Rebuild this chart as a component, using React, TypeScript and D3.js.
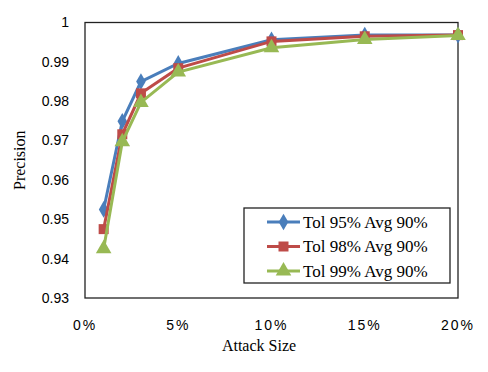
import { useEffect, useRef } from 'react';
import * as d3 from 'd3';

const attackSizes = [0.01, 0.02, 0.03, 0.05, 0.1, 0.15, 0.2];
const tol95 = [0.9525, 0.9749, 0.985, 0.9896, 0.9956, 0.9968, 0.9968];
const tol98 = [0.9475, 0.9716, 0.982, 0.9884, 0.9952, 0.9965, 0.9968];
const tol99 = [0.9425, 0.9697, 0.9797, 0.9874, 0.9936, 0.9957, 0.9967];
const seriesNames = ['Tol 95% Avg 90%', 'Tol 98% Avg 90%', 'Tol 99% Avg 90%'];
const xTicks = [0, 0.05, 0.1, 0.15, 0.2];
const yTicks = [0.93, 0.94, 0.95, 0.96, 0.97, 0.98, 0.99, 1];

const colors = ['#4a7ebb', '#be4b48', '#98b954'];
const symbols = [d3.symbolDiamond, d3.symbolSquare, d3.symbolTriangle];
const symbolSizes = [80, 100, 105];

function App() {
  const svgRef = useRef<SVGSVGElement>(null);

  useEffect(() => {
    const svg = d3.select(svgRef.current);
    svg.selectAll('*').remove();

    const left = 85, right = 458, top = 22.5, bottom = 298;

    const x = d3.scaleLinear().domain([0, 0.2]).range([left, right]);
    const y = d3.scaleLinear().domain([0.93, 1]).range([bottom, top]);

    // plot frame
    svg.append('rect')
      .attr('x', left).attr('y', top)
      .attr('width', right - left).attr('height', bottom - top)
      .attr('fill', 'white').attr('stroke', '#222').attr('stroke-width', 1.3);

    // y tick labels
    svg.append('g')
      .selectAll('text')
      .data(yTicks)
      .join('text')
      .attr('x', 69)
      .attr('y', d => y(d))
      .attr('dy', '0.35em')
      .attr('text-anchor', 'end')
      .style('font-family', '"Liberation Sans", Arial, sans-serif')
      .style('font-size', '14px')
      .text(d => (d === 1 ? '1' : d3.format('.2f')(d)));

    // x tick labels
    svg.append('g')
      .selectAll('text')
      .data(xTicks)
      .join('text')
      .attr('x', d => x(d))
      .attr('y', 330)
      .attr('text-anchor', 'middle')
      .style('font-family', '"Liberation Sans", Arial, sans-serif')
      .style('font-size', '14px')
      .style('letter-spacing', '2px')
      .text(d => d3.format('.0%')(d));

    // axis titles
    svg.append('text')
      .attr('x', 259).attr('y', 351)
      .attr('text-anchor', 'middle')
      .style('font-family', '"Liberation Serif", "Times New Roman", serif')
      .style('font-size', '16px')
      .text('Attack Size');

    svg.append('text')
      .attr('transform', `translate(25,${(top + bottom) / 2}) rotate(-90)`)
      .attr('text-anchor', 'middle')
      .style('font-family', '"Liberation Serif", "Times New Roman", serif')
      .style('font-size', '16px')
      .text('Precision');

    const allSeries = [tol95, tol98, tol99];
    const line = d3.line<number>()
      .x((_, i) => x(attackSizes[i]))
      .y(d => y(d));

    allSeries.forEach((vals, s) => {
      svg.append('path')
        .datum(vals)
        .attr('fill', 'none')
        .attr('stroke', colors[s])
        .attr('stroke-width', 3)
        .attr('d', line);

      svg.append('g')
        .selectAll('path')
        .data(vals)
        .join('path')
        .attr('transform', (d, i) => `translate(${x(attackSizes[i])},${y(d)})`)
        .attr('d', d3.symbol(symbols[s], symbolSizes[s])())
        .attr('fill', colors[s]);
    });

    // legend
    const legend = svg.append('g');
    legend.append('rect')
      .attr('x', 244).attr('y', 208)
      .attr('width', 206).attr('height', 75)
      .attr('fill', 'white').attr('stroke', '#222').attr('stroke-width', 1.3);

    seriesNames.forEach((name, s) => {
      const ly = 222 + s * 24.5;
      legend.append('line')
        .attr('x1', 267).attr('x2', 300)
        .attr('y1', ly).attr('y2', ly)
        .attr('stroke', colors[s]).attr('stroke-width', 3);
      legend.append('path')
        .attr('transform', `translate(283.5,${ly})`)
        .attr('d', d3.symbol(symbols[s], symbolSizes[s])())
        .attr('fill', colors[s]);
      legend.append('text')
        .attr('x', 303).attr('y', ly)
        .attr('dy', '0.35em')
        .style('font-family', '"Liberation Serif", "Times New Roman", serif')
        .style('font-size', '17px')
        .text(name);
    });
  }, []);

  return (
    <svg
      ref={svgRef}
      width={488}
      height={372}
      style={{ position: 'absolute', left: 0, top: 0, background: 'white' }}
    />
  );
}

export default App;
